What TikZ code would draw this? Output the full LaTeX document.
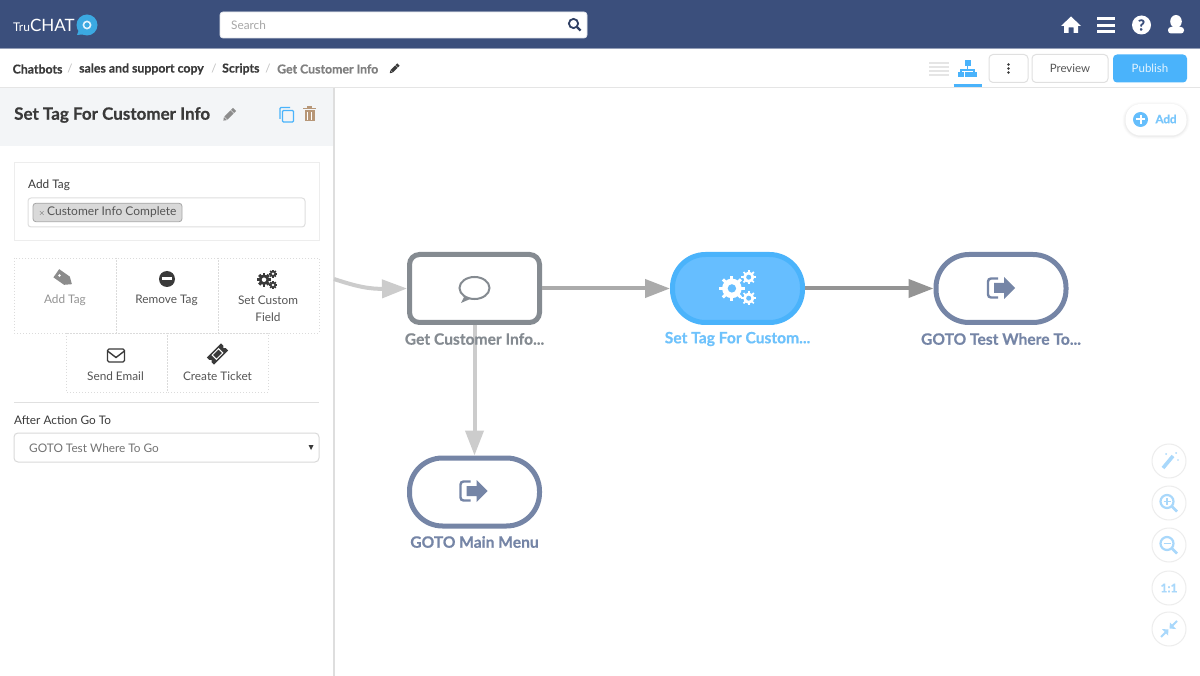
\documentclass[tikz,border=0pt]{standalone}
\usepackage{fontspec}
\setmainfont{Lato}[BoldFeatures={FakeBold=0.5}]
\usetikzlibrary{arrows.meta,calc}
\definecolor{navy}{HTML}{3B4F7C}
\definecolor{sky}{HTML}{4AB3FB}
\definecolor{skyfill}{HTML}{66BEFF}
\definecolor{slate}{HTML}{7585A6}
\definecolor{steel}{HTML}{858B91}
\definecolor{txt}{HTML}{555555}
\definecolor{dark}{HTML}{3A3A3A}
\definecolor{edge}{HTML}{EDEDED}
\definecolor{pale}{HTML}{A9D8FB}
\definecolor{panelbg}{HTML}{F3F5F7}
\tikzset{
  x=1pt,y=-1pt,
  flowbase/.style={draw,line width=5pt,minimum width=130pt,minimum height=68pt,inner sep=0pt,fill=white},
  boxnode/.style={flowbase,rounded corners=10pt,draw=steel},
  pillnode/.style={flowbase,rounded corners=33pt,draw=slate},
  activenode/.style={flowbase,rounded corners=33pt,draw=sky,fill=skyfill},
  caption/.style={font=\bfseries\fontsize{15.6}{17}\selectfont,inner sep=0pt},
  link/.style={line width=4pt,-{Triangle[width=18pt,length=25pt]}},
  uitext/.style={font=\fontsize{11.8}{14}\selectfont,text=txt,inner sep=0pt},
  crumb/.style={font=\bfseries\fontsize{12.3}{14}\selectfont,text=dark,inner sep=0pt,anchor=west},
  sep/.style={font=\fontsize{11.5}{14}\selectfont,text=black!25,inner sep=0pt},
  tile/.style={draw=black!14,line width=.7pt,dash pattern=on 1pt off 2pt},
  card/.style={draw=edge,line width=1pt,fill=white},
}
\newcommand{\gearicon}[4]{%
  \begin{scope}[shift={(#1,#2)}]
    \foreach \a in {0,45,...,315}{\draw[#4,line width=#3*0.42pt] (\a:0.7*#3) -- (\a:1.3*#3);}
    \fill[#4] (0,0) circle (#3);
  \end{scope}}
\newcommand{\gearset}[5]{% x y scale colour hole
  \begin{scope}[shift={(#1,#2)},scale=#3]
    \gearicon{-4}{1}{7}{#4}\fill[#5] (-4,1) circle (3);
    \gearicon{8}{-7}{4}{#4}\fill[#5] (8,-7) circle (1.8);
    \gearicon{8}{8}{4}{#4}\fill[#5] (8,8) circle (1.8);
  \end{scope}}
\newcommand{\exiticon}[3]{%
  \begin{scope}[shift={(#1,#2)}]
    \draw[#3,line width=2.4pt,rounded corners=3pt] (-3,-9.5) -- (-13,-9.5) -- (-13,9.5) -- (-3,9.5);
    \fill[#3] (-7,-5) -- (3,-5) -- (3,-11) -- (14,0) -- (3,11) -- (3,5) -- (-7,5) -- cycle;
  \end{scope}}
\newcommand{\pencilicon}[4]{%
  \begin{scope}[shift={(#1,#2)},rotate=45,scale=#3]
    \fill[#4] (-7,-3) -- (5,-3) -- (5,3) -- (-7,3) -- cycle;
    \fill[#4] (6,-3) -- (10,-3) -- (10,3) -- (6,3) -- cycle;
    \fill[#4] (-8,-3) -- (-12,0) -- (-8,3) -- cycle;
  \end{scope}}
\begin{document}
\begin{tikzpicture}
\useasboundingbox (0,0) rectangle (1200,676);
\fill[white] (0,0) rectangle (1200,676);
% header
\fill[navy] (0,0) rectangle (1200,48);
\fill[navy!55] (0,48) rectangle (1200,49);
\node[inner sep=0pt,anchor=west,text=white] (logo) at (13,25.5) {\fontsize{12}{12}\selectfont Tru\fontsize{17}{17}\selectfont CHAT};
\fill[sky!80!teal] (87,25) circle (10.5);
\fill[sky!80!teal] (80,27) -- (77,35) -- (87,34) -- cycle;
\draw[white!85!sky,line width=1.6pt] (87,25) circle (3.6);
\node[draw=white!85!navy,fill=white,rounded corners=3pt,line width=.7pt,minimum width=367pt,minimum height=26pt,inner sep=0pt] (searchbox) at (403.5,25) {};
\node[uitext,anchor=west,text=black!35] (searchtext) at (231,25) {Search};
\draw[navy!80!black,line width=1.8pt] (573.5,23.5) circle (4.6);
\draw[navy!80!black,line width=2.2pt] (577,27) -- (580.5,30.5);
% top right icons
\fill[white] (1071,16.5) -- (1061,26) -- (1064,26) -- (1064,33) -- (1068.5,33) -- (1068.5,27.5) -- (1073.5,27.5) -- (1073.5,33) -- (1078,33) -- (1078,26) -- (1081,26) -- cycle;
\foreach \yy in {18.5,25.5,31.5}{\draw[white,line width=3.4pt] (1097,\yy) -- (1115,\yy);}
\fill[white] (1141.5,25) circle (9.5);
\node[inner sep=0pt,text=navy,font=\bfseries\fontsize{15}{15}\selectfont] (helpmark) at (1141.5,25) {?};
\fill[white] (1176,21.5) ellipse (5.8 and 6.5);
\fill[white,rounded corners=3pt] (1168,33.5) -- (1168,27) -- (1184,27) -- (1184,33.5) -- cycle;
% breadcrumb
\node[crumb] (c1) at (12.5,69) {Chatbots};
\node[sep] (s1) at (70,69) {/};
\node[crumb] (c2) at (79,69) {sales and support copy};
\node[sep] (s2) at (214,69) {/};
\node[crumb] (c3) at (222,69) {Scripts};
\node[sep] (s3) at (268,69) {/};
\node[crumb,text=black!50] (c4) at (277,69) {Get Customer Info};
\pencilicon{394.5}{68.5}{0.55}{dark}
% view switches
\foreach \yy in {63,67,71,75}{\draw[black!10,line width=2pt] (929,\yy) -- (949,\yy);}
\fill[sky] (964.5,60.5) rectangle (970.5,66);
\draw[sky,line width=1.2pt] (967.5,66) -- (967.5,70) (961,72) -- (961,70) -- (974,70) -- (974,72);
\fill[sky] (958,72) rectangle (964,77.5);
\fill[sky] (964.5,72) rectangle (970.5,77.5);
\fill[sky] (971,72) rectangle (977,77.5);
\draw[sky,line width=3pt] (953.5,85.5) -- (981.5,85.5);
\node[draw=black!12,fill=white,rounded corners=4pt,line width=1pt,minimum width=39pt,minimum height=28pt,inner sep=0pt] (morebtn) at (1008.5,68.5) {};
\foreach \yy in {64.5,68.5,72.5}{\fill[dark] (1008.5,\yy) circle (1.3);}
\node[draw=black!12,fill=white,rounded corners=4pt,line width=1pt,minimum width=76pt,minimum height=28pt,inner sep=0pt,font=\fontsize{11.5}{14}\selectfont,text=txt] (previewbtn) at (1070,68.5) {Preview};
\node[fill=sky,rounded corners=4pt,minimum width=74pt,minimum height=28pt,inner sep=0pt,font=\fontsize{11.5}{14}\selectfont,text=white!85!sky] (publishbtn) at (1150,68.5) {Publish};
\draw[black!10,line width=1pt] (0,87.5) -- (1200,87.5);
% add button
\foreach \w/\o in {6/.015,4/.02,2/.03}{\draw[black,opacity=\o,line width=\w pt,rounded corners=15pt] (1125.5,105) rectangle (1186.5,136);}
\fill[white,rounded corners=15pt] (1125.5,104) rectangle (1186.5,135.5);
\fill[sky!85] (1140.5,119.5) circle (7.5);
\draw[white,line width=2pt] (1136,119.5) -- (1145,119.5) (1140.5,115) -- (1140.5,124);
\node[inner sep=0pt,text=sky!75,font=\bfseries\fontsize{11.5}{14}\selectfont] (addbtn) at (1166,119) {Add};
% left panel
\fill[panelbg] (0,88) rectangle (333,146);
\draw[black!13,line width=2pt] (333.5,88) -- (333.5,676);
\node[inner sep=0pt,anchor=west,text=dark,font=\bfseries\fontsize{17}{19}\selectfont] (paneltitle) at (14,115) {Set Tag For Customer Info};
\pencilicon{229.5}{114.5}{0.72}{black!45}
\draw[sky,line width=1.1pt,rounded corners=1pt] (280,119) -- (280,107.5) -- (290,107.5);
\draw[sky,line width=1.3pt,rounded corners=1pt,fill=panelbg] (282.5,110.5) rectangle (293.5,122);
\fill[brown!75!black!65] (304.5,110) rectangle (314.5,121.5);
\draw[brown!75!black!65,line width=1.2pt] (303,108.5) -- (316,108.5);
\fill[brown!75!black!65] (307,106) rectangle (312,108);
\draw[white,line width=.8pt] (307.5,112) -- (307.5,120) (311.5,112) -- (311.5,120);
% add tag card
\node[card,minimum width=305pt,minimum height=78pt,inner sep=0pt] (tagcard) at (166.5,202) {};
\node[uitext,anchor=west,text=dark] (taglabel) at (28,185) {Add Tag};
\node[draw=black!13,fill=white,rounded corners=3pt,line width=1pt,minimum width=277pt,minimum height=29pt,inner sep=0pt] (taginput) at (166.5,212.5) {};
\node[draw=black!35,fill=black!15,rounded corners=3pt,line width=.8pt,minimum width=149pt,minimum height=18.5pt,inner sep=0pt,text=txt,font=\fontsize{12}{14}\selectfont] (tagchip) at (107.5,212.5) {$\scriptstyle\times$\,Customer Info Complete};
% tiles
\draw[tile] (14,258) rectangle (116,333);
\draw[tile] (116,258) rectangle (218,333);
\draw[tile] (218,258) rectangle (319,333);
\draw[tile] (66,333) rectangle (167,392);
\draw[tile] (167,333) rectangle (268,392);
\node[uitext,text=black!42] (t1) at (65,300.5) {Add Tag};
\node[uitext] (t2) at (166.5,300.5) {Remove Tag};
\node[uitext,align=center,font=\fontsize{11.8}{17}\selectfont] (t3) at (268,309) {Set Custom\\Field};
\node[uitext] (t4) at (115.5,376.5) {Send Email};
\node[uitext] (t5) at (217.5,376.5) {Create Ticket};
% tile icons
\begin{scope}[shift={(64.5,279)},rotate=-35]
  \fill[black!45] (-10,-5) -- (3,-5) -- (9,0) -- (3,5) -- (-10,5) -- cycle;
\end{scope}
\fill[white] (59.5,275.5) circle (1.4);
\fill[dark] (167,279) circle (8);
\fill[white] (162,277.5) rectangle (172,280.5);
\gearset{267}{279}{0.75}{dark}{white}
\draw[dark,line width=1.4pt,rounded corners=1.5pt] (107.5,349) rectangle (124.5,362);
\draw[dark,line width=1.4pt] (107.5,351) -- (116,357.5) -- (124.5,351);
\begin{scope}[shift={(217.5,354)},rotate=45]
  \fill[dark] (-10,-5) -- (10,-5) -- (10,-1.6) -- (8.4,0) -- (10,1.6) -- (10,5) -- (-10,5) -- (-10,1.6) -- (-8.4,0) -- (-10,-1.6) -- cycle;
  \draw[white,line width=1pt] (-4.5,-3) rectangle (4.5,3);
\end{scope}
\draw[black!12,line width=1pt] (14,402) -- (319,402);
\node[uitext,anchor=west,text=dark] (afterlabel) at (14,420) {After Action Go To};
\node[draw=black!15,fill=white,rounded corners=4pt,line width=1pt,minimum width=305pt,minimum height=29pt,inner sep=0pt] (selectbox) at (166.5,447.5) {};
\node[uitext,anchor=west,text=black!55] (selecttext) at (29,448) {GOTO Test Where To Go};
\fill[dark] (308.5,445) -- (313.5,445) -- (311,450) -- cycle;
% flow nodes
\node[boxnode] (get) at (474.5,288.5) {};
\node[activenode] (settag) at (737.5,288.5) {};
\node[pillnode] (gotest) at (1001,288.5) {};
\node[pillnode] (gomenu) at (474.5,492) {};
\coordinate (incoming) at (334,279);
\draw[link,draw=black!20] (incoming) .. controls (358,287) and (370,289) .. (get.west);
\draw[link,draw=black!33] (get.east) -- (settag.west);
\draw[link,draw=black!42] (settag.east) -- (gotest.west);
\draw[link,draw=black!20] (get.south) -- (gomenu.north);
% flow icons
\begin{scope}[shift={(474.5,288)}]
  \fill[steel] (-9,6) -- (-13.5,15) -- (-1,9.5) -- cycle;
  \fill[white,draw=steel,line width=2pt] (0,0) ellipse (15 and 11);
\end{scope}
\gearset{737.5}{287}{1.4}{white}{skyfill}
\exiticon{1001}{288}{slate}
\exiticon{473.5}{491}{slate}
% captions
\node[caption,text=steel] (getcap) at (474.5,339) {Get Customer Info...};
\node[caption,text=sky!80] (setcap) at (737.5,339) {Set Tag For Custom...};
\node[caption,text=slate] (gotestcap) at (1001,339) {GOTO Test Where To...};
\node[caption,text=slate] (gomenucap) at (474.5,542) {GOTO Main Menu};
% right tools
\foreach \yy in {461,503,545,588,629}{\fill[white] (1169,\yy) circle (17);\draw[black!7,line width=1pt] (1169,\yy) circle (17);}
\draw[pale,line width=3.6pt] (1163,468) -- (1173,456);
\fill[pale] (1166,454) circle (1) (1176,453) circle (1) (1178,460) circle (.9);
\draw[pale,line width=2.2pt] (1167,501.5) circle (6.5);
\draw[pale,line width=2.6pt] (1172,506.5) -- (1177,511.5);
\draw[pale,line width=1.2pt] (1163.5,501.5) -- (1170.5,501.5) (1167,498) -- (1167,505);
\draw[pale,line width=2.2pt] (1167,543.5) circle (6.5);
\draw[pale,line width=2.6pt] (1172,548.5) -- (1177,553.5);
\draw[pale,line width=1.2pt] (1163.5,543.5) -- (1170.5,543.5);
\node[inner sep=0pt,text=pale,font=\bfseries\fontsize{12}{12}\selectfont] (onetoone) at (1169,588) {1:1};
\draw[pale,line width=1.8pt] (1161,637) -- (1166.5,631.5) (1177,621) -- (1171.5,626.5);
\fill[pale] (1168.5,629.5) -- (1162,629) -- (1168,635.5) -- cycle;
\fill[pale] (1169.5,628.5) -- (1176,629) -- (1170,622.5) -- cycle;
\end{tikzpicture}
\end{document}
